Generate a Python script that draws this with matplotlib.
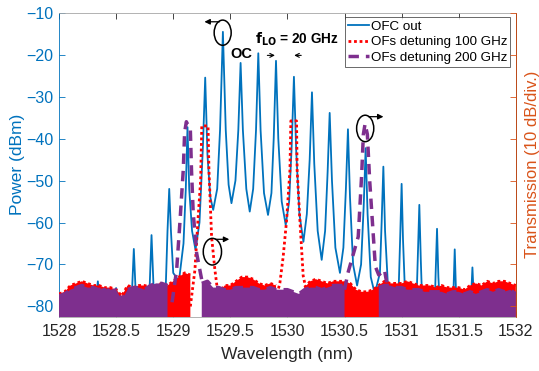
import matplotlib
matplotlib.use('Agg')
import matplotlib.pyplot as plt
from matplotlib.patches import Ellipse
import numpy as np

plt.rcParams['font.family'] = ['Liberation Sans', 'DejaVu Sans']

BLUE = '#0072BD'
RED = '#FF0000'
PURPLE = '#7E2F8E'
ORANGE = '#D95319'
NAN = np.nan

# ---------------- data ----------------
# OFC out spectrum (vertices: comb lines, shoulders, valleys)
ofc_wl = [1528.00, 1528.32, 1528.34, 1528.36, 1528.48, 1528.50, 1528.52,
          1528.635, 1528.655, 1528.675, 1528.79, 1528.81, 1528.83,
          1528.935, 1528.95, 1528.965, 1528.98, 1529.00, 1529.05,
          1529.09, 1529.11, 1529.125, 1529.14, 1529.165, 1529.195,
          1529.23, 1529.26, 1529.28, 1529.30, 1529.325, 1529.35,
          1529.385, 1529.41, 1529.435, 1529.46, 1529.485, 1529.51,
          1529.545, 1529.57, 1529.59, 1529.61, 1529.64, 1529.67,
          1529.70, 1529.725, 1529.745, 1529.765, 1529.795, 1529.83,
          1529.86, 1529.88, 1529.90, 1529.92, 1529.95, 1529.985,
          1530.015, 1530.037, 1530.057, 1530.077, 1530.105, 1530.14,
          1530.17, 1530.195, 1530.215, 1530.235, 1530.265, 1530.30,
          1530.33, 1530.352, 1530.37, 1530.39, 1530.42, 1530.46,
          1530.49, 1530.512, 1530.53, 1530.548, 1530.575, 1530.61,
          1530.645, 1530.668, 1530.685, 1530.702, 1530.73, 1530.765,
          1530.81, 1530.825, 1530.84, 1530.855, 1530.88, 1530.92,
          1530.975, 1530.988, 1531.00, 1531.012, 1531.03, 1531.13,
          1531.142, 1531.155, 1531.168, 1531.18, 1531.29,
          1531.298, 1531.31, 1531.322, 1531.335, 1531.45,
          1531.465, 1531.48, 1531.605, 1531.62, 1531.635, 1532.00]
ofc_db = [-80, -80, -74, -80, -80, -75.6, -80,
          -79, -66.3, -79, -78, -63.0, -77,
          -75, -62, -52.0, -62, -72, -74,
          -65, -52, -37.3, -52, -62, -66.5,
          -60, -42, -25.5, -44, -54, -57,
          -52, -38, -14.6, -38, -51, -55.4,
          -50, -38, -22.0, -38, -52, -57.4,
          -52, -38, -19.7, -38, -53, -58.2,
          -53, -40, -21.5, -40, -55, -60.6,
          -55, -42, -25.3, -43, -58, -64.6,
          -58, -45, -29.0, -46, -62, -68.9,
          -62, -48, -33.9, -50, -66, -72,
          -66, -52, -37.8, -54, -70, -75,
          -70, -56, -42.3, -58, -73, -77,
          -72, -60, -46.7, -62, -75, -78,
          -75, -63, -50.8, -64, -77, -79,
          -68, -55.8, -69, -79, -80,
          -72, -61.5, -73, -80, -80,
          -66.4, -80, -80, -70.7, -80, -80]

# Optical filter passbands (detuning 100 GHz)
of100_wl = [1529.15, 1529.19, 1529.22, 1529.24, 1529.25, 1529.305, 1529.313,
            1529.336, 1529.365, 1529.395, 1529.42, NAN,
            1529.91, 1529.934, 1529.963, 1529.993, 1530.022, 1530.03, 1530.08,
            1530.085, 1530.109, 1530.138, 1530.16]
of100_db = [-80, -71.3, -58, -50, -37, -37, -47.5,
            -63.4, -71.3, -77.7, -79, NAN,
            -77, -74.4, -68.1, -59.4, -47.5, -35.8, -35.8,
            -47.5, -59.4, -72.7, -75.5]

# Optical filter passbands (detuning 200 GHz)
of200_wl = [1528.99, 1529.03, 1529.06, 1529.088, 1529.10, 1529.115, 1529.15,
            1529.16, 1529.175, 1529.205, 1529.25, 1529.27, NAN,
            1530.50, 1530.53, 1530.62, 1530.65, 1530.665, 1530.68, 1530.70,
            1530.72, 1530.77, 1530.80, 1530.85, 1530.88]
of200_db = [-79, -71.3, -59.4, -47.5, -38.5, -36, -38,
            -47.5, -57.7, -67.3, -73.7, -75, NAN,
            -76, -72, -63.4, -48.7, -39, -36.5, -39,
            -49.9, -70.5, -72.5, -71.3, -76]

# Noise floor envelopes, every 0.05 nm from 1528 to 1532
noise_wl = [round(1528 + 0.05 * i, 2) for i in range(81)]
noise100_db = [-77, -76.5, -75, -74.5, -74, -74.5, -75, -75, -75.5, -75.5,
               -76, -77.5, -75, -75.5, -75, -75, -75.5, -75, -74.5, -75,
               -74, -73, -72, -72.5, NAN, NAN, NAN, NAN, -77, -75,
               -75, -74, -73, -73, -73.5, -74.5, -75, -74.5, -75, NAN,
               NAN, NAN, NAN, -75.5, -74, -73.5, -74, -74.5, -74, -74,
               -74, -74.5, -76, -76.5, -76.5, -76, -75, -74, -74.5, -74.5,
               -74.5, -74, -74.5, -75, -75, -75, -75.5, -75, -75.5, -75.5,
               -75.5, -76, -75, -74.5, -75, -74, -74.5, -74, -74, -74.5,
               -75]
noise200_db = [-77.5, -77, -76, -75.5, -75, -75.5, -75.5, -76, -75.5, -76.5,
               -76, -78.5, -76, -75.5, -75.5, -76, -75, -74.5, -74.5, -75,
               NAN, NAN, NAN, NAN, NAN, -74.5, -74, -75.5, -75.5, -76,
               -76, -75.5, -75.5, -75.5, -75.5, -76, -76, -75.5, -76, -76,
               -76, -76.5, -77, -76, -75.5, -75.5, -76, -75.5, -75, -75,
               -75, NAN, NAN, NAN, NAN, NAN, -75.5, -75, -75, -75.5,
               -75.5, -76, -76, -76, -76.5, -76.5, -76.5, -76.5, -77, -76.5,
               -76.5, -77, -76.5, -77, -76.5, -76, -76.5, -76, -76.5, -76,
               -77]

xticks = [1528, 1528.5, 1529, 1529.5, 1530, 1530.5, 1531, 1531.5, 1532]
xticklabels = ['1528', '1528.5', '1529', '1529.5', '1530', '1530.5', '1531', '1531.5', '1532']
yticks = [-80, -70, -60, -50, -40, -30, -20, -10]

# ---------------- figure ----------------
fig = plt.figure(figsize=(5.39, 3.71), dpi=100)
ax = fig.add_axes([0.1095, 0.1456, 0.8475, 0.8206])
YMIN, YMAX = -82.5, -10

ax.plot(ofc_wl, ofc_db, color=BLUE, lw=1.3, zorder=2, label='OFC out')

nwl = np.array(noise_wl)
n100 = np.array(noise100_db, dtype=float)
n200 = np.array(noise200_db, dtype=float)
ax.fill_between(nwl, YMIN - 1, n100, color=RED, lw=0, zorder=3)
ax.plot(nwl, n100, color=RED, lw=2, ls=(0, (1, 1)), zorder=3)
ax.plot(of100_wl, of100_db, color=RED, lw=2, ls=(0, (1, 1)), zorder=3,
        label='OFs detuning 100 GHz')
ax.fill_between(nwl, YMIN - 1, n200, color=PURPLE, lw=0, zorder=4)
ax.plot(nwl, n200, color=PURPLE, lw=2.5, ls=(0, (3, 2)), zorder=4)
ax.plot(of200_wl, of200_db, color=PURPLE, lw=2.5, ls=(0, (3, 2)), zorder=4,
        label='OFs detuning 200 GHz')

ax.set_xlim(1528, 1532)
ax.set_ylim(YMIN, YMAX)
ax.set_xticks(xticks)
ax.set_xticklabels(xticklabels)
ax.set_yticks(yticks)
ax.tick_params(axis='x', direction='in', length=4, top=True, labelsize=11.5,
               colors='#262626', width=0.6, pad=5)
ax.tick_params(axis='y', direction='in', length=4, labelsize=11.5,
               colors=BLUE, width=0.6, pad=4)
ax.spines['left'].set_color(BLUE)
for s in ['top', 'bottom']:
    ax.spines[s].set_color('#a6a6a6')
for s in ax.spines.values():
    s.set_linewidth(0.6)
ax.set_xlabel('Wavelength (nm)', fontsize=12.5, color='#262626', labelpad=6)
ax.set_ylabel('Power (dBm)', fontsize=12.5, color=BLUE, labelpad=1)

ax2 = ax.twinx()
ax2.set_ylim(YMIN, YMAX)
ax2.set_yticks(yticks)
ax2.set_yticklabels([])
ax2.tick_params(axis='y', direction='in', length=4, colors=ORANGE, width=0.6)
ax2.spines['right'].set_color(ORANGE)
ax2.spines['right'].set_linewidth(0.6)
for s in ['top', 'bottom', 'left']:
    ax2.spines[s].set_visible(False)
ax2.set_ylabel('Transmission (10 dB/div.)', fontsize=12, color=ORANGE, labelpad=3)

leg = ax.legend(loc='upper right', bbox_to_anchor=(0.988, 0.985), fontsize=9.6,
                frameon=True, fancybox=False, edgecolor='#262626',
                handlelength=1.6, handletextpad=0.1, labelspacing=0.25,
                borderpad=0.25, borderaxespad=0)
leg.get_frame().set_linewidth(0.6)
leg.set_zorder(10)

# annotations
for (cx, cy, w, h) in [(1529.433, -14.8, 0.149, 6.0),
                       (1530.681, -37.6, 0.15, 6.3),
                       (1529.343, -66.95, 0.16, 6.35)]:
    ax.add_patch(Ellipse((cx, cy), w, h, fill=False, edgecolor='black',
                         lw=1.1, zorder=6))
arrow_kw = dict(arrowstyle='-|>', color='black', lw=0.9, mutation_scale=8)
ax.annotate('', xy=(1529.249, -12.2), xytext=(1529.43, -12.2),
            arrowprops=arrow_kw, zorder=6)
ax.annotate('', xy=(1530.865, -34.8), xytext=(1530.685, -34.8),
            arrowprops=arrow_kw, zorder=6)
ax.annotate('', xy=(1529.515, -64.0), xytext=(1529.345, -64.0),
            arrowprops=arrow_kw, zorder=6)
arrow2_kw = dict(arrowstyle='->', color='black', lw=0.8, mutation_scale=7)
ax.annotate('', xy=(1529.915, -20.2), xytext=(1529.80, -20.2),
            arrowprops=arrow2_kw, zorder=6)
ax.annotate('', xy=(1530.035, -20.2), xytext=(1530.145, -20.2),
            arrowprops=arrow2_kw, zorder=6)
ax.text(1529.593, -19.8, 'OC', fontsize=10.5, fontweight='bold',
        ha='center', va='center', zorder=6)
ax.text(1529.712, -17.3, r'$\mathbf{f_{LO}}$' + ' = 20 GHz', fontsize=9.8,
        fontweight='bold', ha='left', va='baseline', zorder=6)

fig.savefig('out.png', dpi=100)
